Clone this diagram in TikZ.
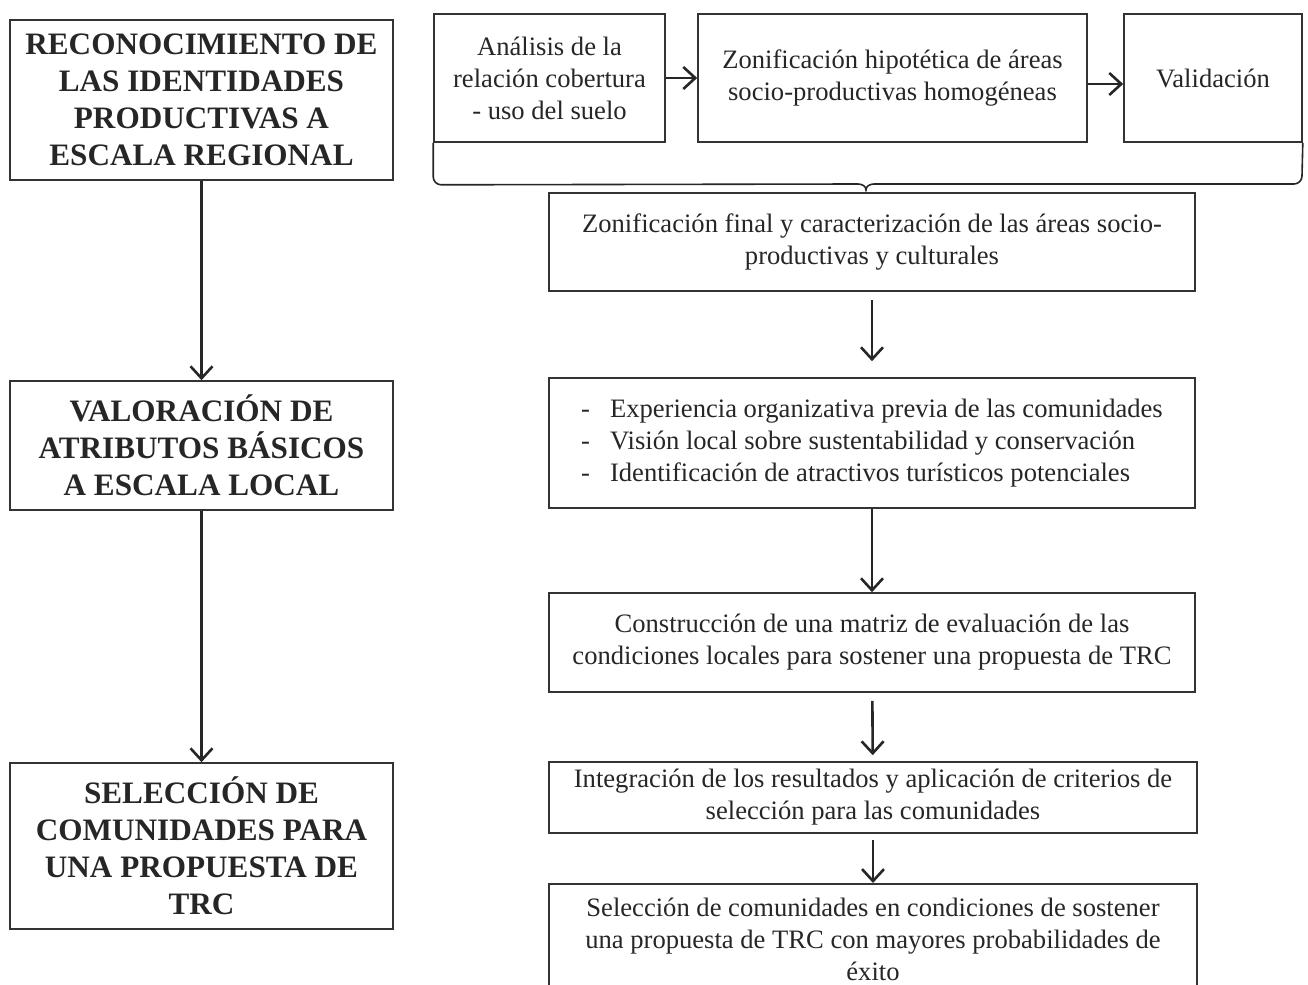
\documentclass[tikz,border=0pt]{standalone}
\usepackage{fontspec}
\setmainfont{Liberation Serif}
\usetikzlibrary{arrows.meta}
\begin{document}
\begin{tikzpicture}[x=0.5pt, y=-0.5pt,
	box/.style={draw=black!80, line width=0.8pt, align=center, inner sep=2pt,
		font=\fontsize{13.3}{16}\selectfont, text=black!85},
	title/.style={box, font=\fontsize{15.6}{18.5}\selectfont\bfseries},
	flow/.style={-{Straight Barb[length=6pt, width=11pt, line width=1.3pt]}, line width=1.3pt, black!85}]
	
	\useasboundingbox (0,0) rectangle (1308,985);
	
	% Left column
	\node[title, minimum width=191.5pt, minimum height=80pt] (reco) at (201.5,100)
	{RECONOCIMIENTO DE\\LAS IDENTIDADES\\PRODUCTIVAS A\\ESCALA REGIONAL};
	\node[title, minimum width=191.5pt, minimum height=64.5pt] (valo) at (201.5,445.5)
	{VALORACIÓN DE\\ATRIBUTOS BÁSICOS\\A ESCALA LOCAL};
	\node[title, minimum width=191.5pt, minimum height=83pt] (sele) at (201.5,846)
	{SELECCIÓN DE\\COMUNIDADES PARA\\UNA PROPUESTA DE\\TRC};
	
	\draw[flow] (reco) -- (valo);
	\draw[flow] (valo) -- (sele);
	
	% Top row
	\node[box, minimum width=115.5pt, minimum height=64pt] (anal) at (549.5,78)
	{Análisis de la\\relación cobertura\\- uso del suelo};
	\node[box, minimum width=194.5pt, minimum height=64pt] (zhip) at (892.5,78)
	{Zonificación hipotética de áreas\\socio-productivas homogéneas};
	\node[box, minimum width=89pt, minimum height=64pt] (vali) at (1213,78)
	{Validación};
	
	\draw[flow] (anal) -- (zhip);
	\draw[flow] (zhip.east |- 0,84) -- (vali.west |- 0,84);
	
	% Brace under the top row
	\coordinate (brl) at (anal.south west);
	\coordinate (brr) at (vali.south east);
	\coordinate (brtip) at (866,190);
	\draw[black!85, line width=0.8pt]
	(brl) -- ++(0,34) to[out=-90, in=180] ++(8,8) -- (858,184)
	to[out=0, in=90] (brtip) to[out=90, in=180] (874,184)
	-- (1294,184) to[out=0, in=-90] ++(8,-8) -- (brr);
	
	% Right column
	\node[box, minimum width=323pt, minimum height=49pt] (zfin) at (872,242)
	{Zonificación final y caracterización de las áreas socio-\\productivas y culturales};
	\node[box, minimum width=323pt, minimum height=65pt, align=left] (expe) at (872,443)
	{-\hspace{0.75em}Experiencia organizativa previa de las comunidades\\
		-\hspace{0.75em}Visión local sobre sustentabilidad y conservación\\
		-\hspace{0.75em}Identificación de atractivos turísticos potenciales};
	\node[box, minimum width=323pt, minimum height=49.5pt] (matr) at (872,642.5)
	{Construcción de una matriz de evaluación de las\\condiciones locales para sostener una propuesta de TRC};
	\node[box, minimum width=324pt, minimum height=35.5pt] (inte) at (873,797.5)
	{Integración de los resultados y aplicación de criterios de\\selección para las comunidades};
	\node[box, minimum width=324pt, minimum height=56pt, anchor=north] (scom) at (873,883)
	{Selección de comunidades en condiciones de sostener\\una propuesta de TRC con mayores probabilidades de\\éxito};
	
	\draw[flow, shorten <=4pt, shorten >=8pt] (zfin) -- (expe);
	\draw[flow] (expe) -- (matr);
	\draw[flow, shorten <=4pt, shorten >=3pt] (matr) -- (inte);
	\draw[flow, shorten <=3pt] (inte) -- (scom);
	
\end{tikzpicture}
\end{document}
